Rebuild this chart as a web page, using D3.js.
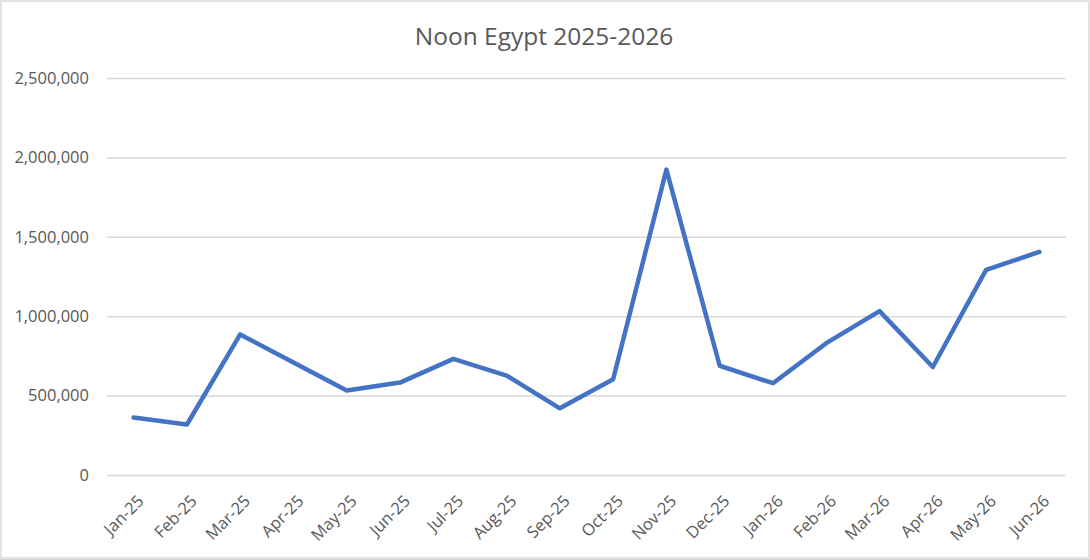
<!DOCTYPE html>
<html>
<head>
<meta charset="utf-8">
<script src="https://cdn.jsdelivr.net/npm/d3@7"></script>
<style>
  body { margin: 0; background: #fff; }
  text { font-family: "Open Sans", sans-serif; fill: #595959; }
</style>
</head>
<body>
<div id="chart"></div>
<script>
// Data
var months = ["Jan-25", "Feb-25", "Mar-25", "Apr-25", "May-25", "Jun-25", "Jul-25", "Aug-25", "Sep-25",
  "Oct-25", "Nov-25", "Dec-25", "Jan-26", "Feb-26", "Mar-26", "Apr-26", "May-26", "Jun-26"];
var values = [362000, 318000, 885000, 708000, 532000, 582000, 731000, 626000, 420000,
  603000, 1923000, 688000, 578000, 830000, 1032000, 680000, 1292000, 1405000];
var yTicks = [0, 500000, 1000000, 1500000, 2000000, 2500000];
var title = "Noon Egypt 2025-2026";

var svgWidth = 1090;
var svgHeight = 559;

var margin = { top: 78, right: 24, bottom: 84, left: 107 };
var width = svgWidth - margin.left - margin.right;
var height = svgHeight - margin.top - margin.bottom;

var svg = d3.select("#chart")
  .append("svg")
  .attr("width", svgWidth)
  .attr("height", svgHeight);

// chart border
svg.append("rect")
  .attr("x", 1).attr("y", 1)
  .attr("width", svgWidth - 2).attr("height", svgHeight - 2)
  .attr("fill", "#fff")
  .attr("stroke", "#d9d9d9")
  .attr("stroke-width", 1.5);

svg.append("text")
  .attr("x", 544)
  .attr("y", 45)
  .attr("text-anchor", "middle")
  .style("font-size", "24.5px")
  .text(title);

var chartGroup = svg.append("g")
  .attr("transform", `translate(${margin.left}, ${margin.top})`);

var xScale = d3.scaleBand()
  .domain(months)
  .range([0, width]);

var yScale = d3.scaleLinear()
  .domain([0, 2500000])
  .range([height, 0]);

// gridlines + y labels
var leftAxis = d3.axisLeft(yScale)
  .tickValues(yTicks)
  .tickSize(-width)
  .tickPadding(18)
  .tickFormat(d3.format(","));

var yAxis = chartGroup.append("g").call(leftAxis);
yAxis.select(".domain").remove();
yAxis.selectAll(".tick line")
  .attr("stroke", "#d9d9d9")
  .attr("stroke-width", 1.5);
yAxis.selectAll(".tick text")
  .style("font-size", "16.5px")
  .style("font-family", "'Open Sans', sans-serif")
  .attr("fill", "#595959");

// x labels, rotated
var bottomAxis = d3.axisBottom(xScale).tickSize(0).tickPadding(0);
var xAxis = chartGroup.append("g")
  .attr("transform", `translate(0, ${height})`)
  .call(bottomAxis);
xAxis.select(".domain").remove();
xAxis.selectAll(".tick text")
  .style("font-size", "16.5px")
  .style("font-family", "'Open Sans', sans-serif")
  .attr("fill", "#595959")
  .attr("text-anchor", "end")
  .attr("y", 0)
  .attr("dy", "0.35em")
  .attr("transform", "translate(7, 23) rotate(-45)");

// the line
var line = d3.line()
  .x((d, i) => xScale(months[i]) + xScale.bandwidth() / 2)
  .y(d => yScale(d));

chartGroup.append("path")
  .datum(values)
  .attr("fill", "none")
  .attr("stroke", "#4472c4")
  .attr("stroke-width", 4.5)
  .attr("stroke-linejoin", "round")
  .attr("stroke-linecap", "round")
  .attr("d", line);
</script>
</body>
</html>
